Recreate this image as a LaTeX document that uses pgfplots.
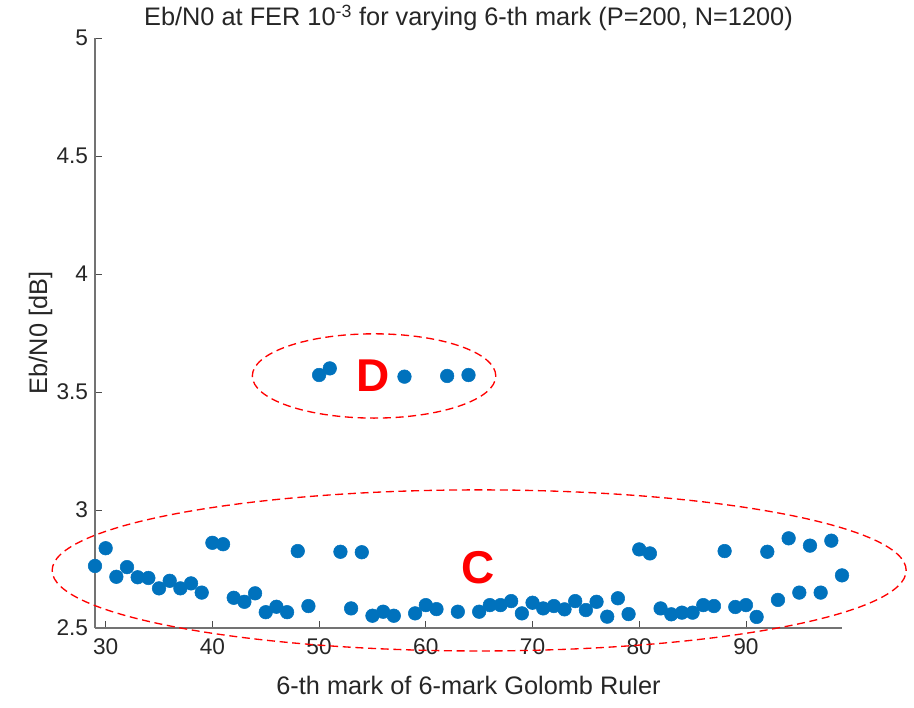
\documentclass[border=0pt]{standalone}
\usepackage{pgfplots}
\pgfplotsset{compat=1.18}
\usepackage{fontspec}
\setmainfont{Liberation Sans}
\definecolor{mblue}{rgb}{0,0.447,0.741}
\definecolor{axgray}{rgb}{0.15,0.15,0.15}
\begin{document}
\begin{tikzpicture}
\begin{axis}[
  name=ax,
  scale only axis,
  width=560.25pt, height=442.5pt,
  xmin=29, xmax=99, ymin=2.5, ymax=5,
  xtick={30,40,...,90},
  ytick={2.5,3,3.5,4,4.5,5},
  yticklabels={2.5,3,3.5,4,4.5,5},
  axis lines=left,
  axis line style={-, draw=black!55, line width=0.8pt},
  tick style={draw=black!70, line width=0.6pt},
  tick align=inside,
  major tick length=5.25pt,
  clip=false,
  /pgf/number format/assume math mode=true,
  tick label style={font=\fontsize{17}{20}\selectfont, text=axgray},
  xticklabel style={anchor=base, yshift=-20pt},
  yticklabel style={anchor=east, inner sep=0pt, xshift=-5pt},
  title={Eb/N0 at FER 10\textsuperscript{-3} for varying 6-th mark (P=200, N=1200)},
  title style={font=\fontsize{19}{22}\selectfont, text=axgray, at={(axis description cs:0.5,1)}, anchor=base, yshift=3pt},
  xlabel={6-th mark of 6-mark Golomb Ruler},
  xlabel style={font=\fontsize{19}{22}\selectfont, text=axgray, at={(axis description cs:0.5,0)}, anchor=base, yshift=-50pt},
  ylabel={Eb/N0 [dB]},
  ylabel style={font=\fontsize{19}{22}\selectfont, text=axgray, at={(axis description cs:-0.064,0.5)}, anchor=base, rotate=0},
]
\addplot[only marks, mark=*, mark size=5.1pt, mark options={draw=mblue, fill=mblue}] coordinates {
(29,2.763) (30,2.838) (31,2.717) (32,2.758) (33,2.715) (34,2.712) (35,2.668)
(36,2.700) (37,2.668) (38,2.689) (39,2.650) (40,2.861) (41,2.855) (42,2.628)
(43,2.611) (44,2.647) (45,2.567) (46,2.590) (47,2.567) (48,2.826) (49,2.593)
(50,3.572) (51,3.600) (52,2.823) (53,2.583) (54,2.821) (55,2.552) (56,2.569)
(57,2.552) (58,3.565) (59,2.562) (60,2.597) (61,2.580) (62,3.568) (63,2.569)
(64,3.572) (65,2.569) (66,2.597) (67,2.597) (68,2.614) (69,2.562) (70,2.607)
(71,2.583) (72,2.593) (73,2.579) (74,2.614) (75,2.576) (76,2.611) (77,2.548)
(78,2.626) (79,2.559) (80,2.833) (81,2.816) (82,2.583) (83,2.558) (84,2.565)
(85,2.565) (86,2.597) (87,2.593) (88,2.826) (89,2.589) (90,2.597) (91,2.547)
(92,2.823) (93,2.619) (94,2.880) (95,2.650) (96,2.849) (97,2.650) (98,2.870)
(99,2.723)
};
\draw[red, line width=1pt, dash pattern=on 6pt off 3.5pt] (axis cs:55.15,3.568) ellipse [x radius=91.3pt, y radius=31.6pt];
\draw[red, line width=1pt, dash pattern=on 6pt off 3.5pt] (axis cs:65.0,2.744) ellipse [x radius=320.25pt, y radius=60.4pt];
\node[red, font=\fontsize{34.5}{40}\selectfont\bfseries, inner sep=0pt] at (axis cs:55.06,3.568) {D};
\node[red, font=\fontsize{34.5}{40}\selectfont\bfseries, inner sep=0pt] at (axis cs:64.9,2.754) {C};
\end{axis}
\pgfresetboundingbox
\path[use as bounding box] (ax.south west) ++(-71.25pt,-59.25pt) rectangle ++(685.5pt,530.25pt);
\end{tikzpicture}
\end{document}
